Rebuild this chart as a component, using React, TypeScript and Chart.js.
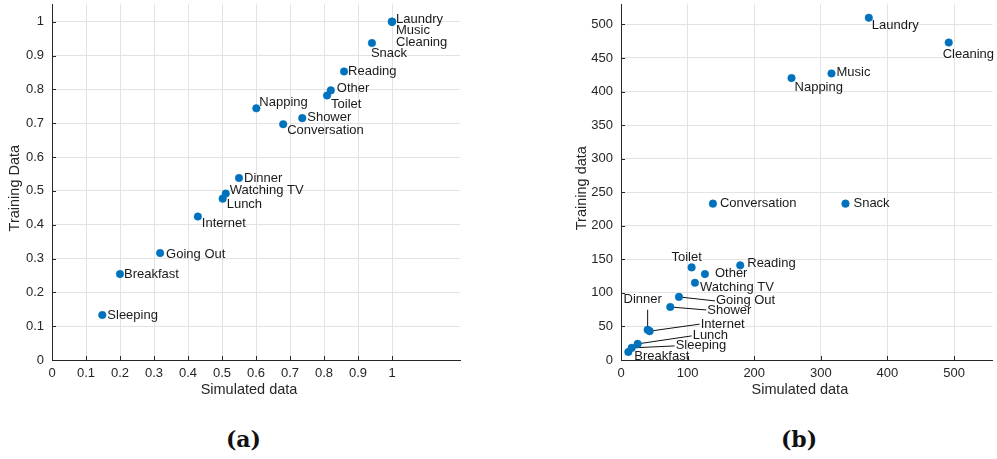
import React, { useEffect, useRef } from "react";
import { Chart, registerables } from "chart.js";

Chart.register(...registerables);

// ---- Panel (a): normalised activity frequencies ----
const activitiesA = [
  "Laundry", "Music", "Cleaning", "Snack", "Reading", "Other", "Toilet", "Napping",
  "Shower", "Conversation", "Dinner", "Watching TV", "Lunch", "Internet", "Going Out",
  "Breakfast", "Sleeping",
];
const simulatedA = [1.0, 1.0, 1.0, 0.941, 0.859, 0.82, 0.809, 0.601, 0.736, 0.68, 0.55, 0.511, 0.502, 0.429, 0.318, 0.2, 0.148];
const trainingA = [1.0, 1.0, 1.0, 0.937, 0.853, 0.797, 0.782, 0.744, 0.715, 0.697, 0.538, 0.492, 0.477, 0.424, 0.316, 0.254, 0.133];
const xTicksA = [0, 0.1, 0.2, 0.3, 0.4, 0.5, 0.6, 0.7, 0.8, 0.9, 1];
const yTicksA = [0, 0.1, 0.2, 0.3, 0.4, 0.5, 0.6, 0.7, 0.8, 0.9, 1];

// ---- Panel (b): activity counts ----
const activitiesB = [
  "Laundry", "Cleaning", "Music", "Napping", "Conversation", "Snack", "Toilet", "Reading",
  "Other", "Watching TV", "Going Out", "Shower", "Dinner", "Internet", "Lunch", "Sleeping",
  "Breakfast",
];
const simulatedB = [372, 492, 316, 256, 138, 337, 106, 179, 126, 111, 87, 74, 40, 43, 25, 16, 11];
const trainingB = [510, 473, 427, 420, 233, 233, 138, 141, 128, 115, 94, 79, 45, 43, 24, 18, 12];
const xTicksB = [0, 100, 200, 300, 400, 500];
const yTicksB = [0, 50, 100, 150, 200, 250, 300, 350, 400, 450, 500];

// Label placement (pixel offsets from each point; optional leader-line end)
type Placement = { dx: number; dy: number; align?: CanvasTextAlign; lx?: number; ly?: number };

const placeA: Placement[] = [
  { dx: 4, dy: -2 }, { dx: 4, dy: 9 }, { dx: 4, dy: 21 }, { dx: -1, dy: 10 },
  { dx: 4, dy: 0 }, { dx: 6, dy: -2 }, { dx: 4, dy: 9 }, { dx: 3, dy: -6 },
  { dx: 5, dy: -1 }, { dx: 4, dy: 6 }, { dx: 5, dy: 0 }, { dx: 4, dy: -3 },
  { dx: 4, dy: 6 }, { dx: 4, dy: 7 }, { dx: 6, dy: 1 }, { dx: 4, dy: 0 },
  { dx: 5, dy: 0 },
];

const placeB: Placement[] = [
  { dx: 3, dy: 8 }, { dx: -6, dy: 12 }, { dx: 5, dy: -1 }, { dx: 3, dy: 9 },
  { dx: 7, dy: 0 }, { dx: 8, dy: 0 }, { dx: -5, dy: -10, align: "center" },
  { dx: 7, dy: -2 }, { dx: 10, dy: -1 }, { dx: 5, dy: 5 },
  { dx: 37, dy: 4, lx: 36, ly: 4 }, { dx: 37, dy: 3, lx: 36, ly: 3 },
  { dx: -5, dy: -30, align: "center", lx: 0, ly: -20 },
  { dx: 51, dy: -7, lx: 50, ly: -7 }, { dx: 55, dy: -8, lx: 54, ly: -8 },
  { dx: 44, dy: -2, lx: 43, ly: -2 }, { dx: 6, dy: 4 },
];

const AXIS = "#262626";
const GRID = "#e3e3e3";
const DOT = "#0072BD";
const FONT = "Liberation Sans, Arial, Helvetica, sans-serif";

type OverlayOpts = {
  names: string[];
  place: Placement[];
  xTitle: string;
  yTitle: string;
  yTitleX: number;
};

function overlay(o: OverlayOpts) {
  return {
    id: "overlay",
    beforeDatasetsDraw(chart: any) {
      const ctx = chart.ctx as CanvasRenderingContext2D;
      const meta = chart.getDatasetMeta(0);
      ctx.save();
      ctx.strokeStyle = "#111";
      ctx.lineWidth = 1;
      meta.data.forEach((el: any, i: number) => {
        const p = o.place[i];
        if (p.lx === undefined || p.ly === undefined) return;
        ctx.beginPath();
        ctx.moveTo(el.x, el.y);
        ctx.lineTo(el.x + p.lx, el.y + p.ly);
        ctx.stroke();
      });
      ctx.restore();
    },
    afterDatasetsDraw(chart: any) {
      const ctx = chart.ctx as CanvasRenderingContext2D;
      const meta = chart.getDatasetMeta(0);
      ctx.save();
      ctx.font = `13px ${FONT}`;
      ctx.fillStyle = "#1a1a1a";
      ctx.textBaseline = "middle";
      meta.data.forEach((el: any, i: number) => {
        const p = o.place[i];
        ctx.textAlign = p.align ?? "left";
        ctx.fillText(o.names[i], el.x + p.dx, el.y + p.dy);
      });
      ctx.restore();
    },
    afterDraw(chart: any) {
      const ctx = chart.ctx as CanvasRenderingContext2D;
      const { left, right, top, bottom } = chart.chartArea;
      const xs = chart.scales.x;
      const ys = chart.scales.y;
      ctx.save();
      // inward tick marks
      ctx.strokeStyle = AXIS;
      ctx.lineWidth = 1;
      xs.ticks.forEach((t: any) => {
        const px = Math.round(xs.getPixelForValue(t.value)) + 0.5;
        ctx.beginPath();
        ctx.moveTo(px, bottom);
        ctx.lineTo(px, bottom - 4);
        ctx.stroke();
      });
      ys.ticks.forEach((t: any) => {
        const py = Math.round(ys.getPixelForValue(t.value)) + 0.5;
        ctx.beginPath();
        ctx.moveTo(left, py);
        ctx.lineTo(left + 4, py);
        ctx.stroke();
      });
      // axis titles
      ctx.fillStyle = AXIS;
      ctx.font = `14.5px ${FONT}`;
      ctx.textAlign = "center";
      ctx.textBaseline = "middle";
      ctx.fillText(o.xTitle, (left + right) / 2 - 7, bottom + 30);
      ctx.translate(o.yTitleX, (top + bottom) / 2 + 6);
      ctx.rotate(-Math.PI / 2);
      ctx.fillText(o.yTitle, 0, 0);
      ctx.restore();
    },
  };
}

type PanelProps = {
  xs: number[];
  ys: number[];
  names: string[];
  place: Placement[];
  xTicks: number[];
  yTicks: number[];
  xMax: number;
  yMax: number;
  yAxisWidth: number;
  padRight: number;
  width: number;
  height: number;
  left: number;
  xTitle: string;
  yTitle: string;
  yTitleX: number;
};

function ScatterPanel(p: PanelProps) {
  const ref = useRef<HTMLCanvasElement | null>(null);

  useEffect(() => {
    if (!ref.current) return;
    const points = p.xs.map((x, i) => ({ x, y: p.ys[i] }));
    const tickFont = { family: FONT, size: 13 };
    const chart = new Chart(ref.current, {
      type: "scatter",
      data: {
        datasets: [
          {
            data: points,
            pointRadius: 3.8,
            pointHoverRadius: 3.8,
            pointBackgroundColor: DOT,
            pointBorderColor: DOT,
            pointBorderWidth: 0.5,
          },
        ],
      },
      options: {
        animation: false,
        responsive: false,
        events: [],
        layout: { padding: { left: 0, top: 4, right: p.padRight, bottom: 0 } },
        plugins: { legend: { display: false }, tooltip: { enabled: false } },
        scales: {
          x: {
            type: "linear",
            min: 0,
            max: p.xMax,
            afterBuildTicks: (s: any) => {
              s.ticks = p.xTicks.map((v) => ({ value: v }));
            },
            afterFit: (s: any) => {
              s.height = 40;
              s.paddingLeft = 0;
              s.paddingRight = 0;
            },
            ticks: {
              autoSkip: false,
              maxRotation: 0,
              padding: 6,
              color: AXIS,
              font: tickFont,
              callback: (v: any) => String(v),
            },
            grid: { color: GRID, lineWidth: 1, drawTicks: false },
            border: { display: true, color: AXIS, width: 1 },
          },
          y: {
            type: "linear",
            min: 0,
            max: p.yMax,
            afterBuildTicks: (s: any) => {
              s.ticks = p.yTicks.map((v) => ({ value: v }));
            },
            afterFit: (s: any) => {
              s.width = p.yAxisWidth;
              s.paddingTop = 0;
              s.paddingBottom = 0;
            },
            ticks: {
              autoSkip: false,
              padding: 8,
              color: AXIS,
              font: tickFont,
              callback: (v: any) => String(v),
            },
            grid: { color: GRID, lineWidth: 1, drawTicks: false },
            border: { display: true, color: AXIS, width: 1 },
          },
        },
      },
      plugins: [
        overlay({
          names: p.names,
          place: p.place,
          xTitle: p.xTitle,
          yTitle: p.yTitle,
          yTitleX: p.yTitleX,
        }),
      ],
    } as any);
    return () => chart.destroy();
  }, []);

  return (
    <canvas
      ref={ref}
      width={p.width}
      height={p.height}
      style={{ position: "absolute", left: p.left, top: 0, width: p.width, height: p.height }}
    />
  );
}

const captionStyle: React.CSSProperties = {
  position: "absolute",
  top: 425,
  width: 100,
  textAlign: "center",
  fontFamily: "'DejaVu Serif', serif",
  fontWeight: "bold",
  fontSize: 22,
  lineHeight: "28px",
  color: "#111",
};

export default function App() {
  return (
    <div
      style={{
        position: "fixed",
        left: 0,
        top: 0,
        width: 997,
        height: 459,
        background: "#ffffff",
        overflow: "hidden",
      }}
    >
      <ScatterPanel
        xs={simulatedA}
        ys={trainingA}
        names={activitiesA}
        place={placeA}
        xTicks={xTicksA}
        yTicks={yTicksA}
        xMax={1.2}
        yMax={1.0515}
        yAxisWidth={52}
        padRight={10}
        width={470}
        height={400}
        left={0}
        xTitle="Simulated data"
        yTitle="Training Data"
        yTitleX={15}
      />
      <ScatterPanel
        xs={simulatedB}
        ys={trainingB}
        names={activitiesB}
        place={placeB}
        xTicks={xTicksB}
        yTicks={yTicksB}
        xMax={558}
        yMax={530}
        yAxisWidth={81}
        padRight={0}
        width={457}
        height={400}
        left={540}
        xTitle="Simulated data"
        yTitle="Training data"
        yTitleX={42}
      />
      <div style={{ ...captionStyle, left: 193.5 }}>(a)</div>
      <div style={{ ...captionStyle, left: 749 }}>(b)</div>
    </div>
  );
}
